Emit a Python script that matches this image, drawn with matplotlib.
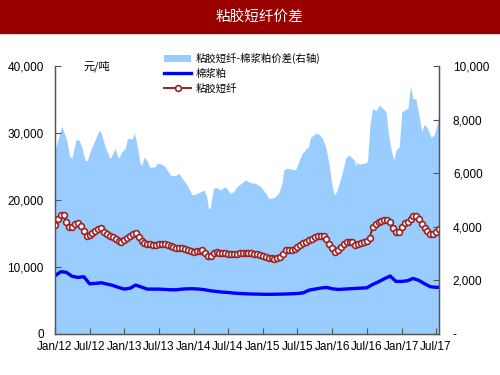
import numpy as np
import pandas as pd
import matplotlib
matplotlib.use('Agg')
import matplotlib.pyplot as plt
import matplotlib.dates as mdates
from matplotlib.ticker import FuncFormatter

plt.rcParams['font.family'] = ['Liberation Sans', 'Noto Sans CJK SC', 'DejaVu Sans']
CJK = ['Noto Sans CJK SC', 'DejaVu Sans']

# ---- data ----
# 粘胶短纤 (semi-monthly, left axis)
viscose_start = '2012-01-01'
viscose_values = [
    16300, 17100, 17700, 17700, 16700, 15900, 16000, 16400, 16500, 16100,
    15400, 14700, 14800, 15100, 15400, 15700, 15800, 15200, 14900, 14650,
    14450, 14250, 13950, 13800, 14000, 14400, 14700, 14950, 15100, 14450,
    13900, 13650, 13500, 13400, 13300, 13350, 13450, 13500, 13450, 13250,
    13100, 12950, 12900, 12850, 12800, 12650, 12500, 12400, 12300, 12350,
    12450, 12500, 12150, 11700, 11700, 12150, 12200, 12150, 12100, 12050,
    12000, 11950, 11950, 12000, 12050, 12100, 12100, 12050, 12050, 11950,
    11900, 11800, 11650, 11500, 11400, 11300, 11250, 11300, 11550, 12000,
    12550, 12600, 12600, 12700, 12950, 13250, 13550, 13800, 14050, 14250,
    14450, 14650, 14700, 14650, 14250, 13400, 12800, 12300, 12550, 13050,
    13400, 13700, 13800, 13750, 13350, 13400, 13550, 13700, 13900, 14400,
    16000, 16350, 16700, 16900, 17050, 17050, 16700, 15800, 15250, 15250,
    16000, 16600, 16750, 17200, 17600, 17600, 17100, 16400, 15750, 15300,
    14950, 14950, 15150, 15600,
]

# 棉浆粕 (monthly, left axis)
pulp_values = [
    8700, 9300, 9200, 8600, 8450, 8550, 7500, 7550, 7650, 7450,
    7250, 6950, 6700, 6850, 7300, 7000, 6700, 6700, 6700, 6650,
    6600, 6600, 6700, 6750, 6750, 6700, 6600, 6450, 6350, 6250,
    6200, 6100, 6050, 6000, 5970, 5950, 5930, 5920, 5930, 5950,
    5970, 6000, 6050, 6150, 6550, 6700, 6850, 6950, 6750, 6650,
    6700, 6750, 6800, 6850, 6900, 7400, 7800, 8250, 8650, 7850,
    7850, 7950, 8300, 8000, 7500, 7050, 6970, 6970,
]

# 粘胶短纤-棉浆粕价差 (right axis)
spread_dates = [
    '2012-01-01', '2012-02-06', '2012-03-02', '2012-03-19', '2012-03-30', '2012-04-20',
    '2012-05-07', '2012-05-20', '2012-06-07', '2012-06-19', '2012-07-07', '2012-07-30',
    '2012-08-20', '2012-08-31', '2012-09-21', '2012-10-17', '2012-10-29', '2012-11-13',
    '2012-11-22', '2012-12-01', '2012-12-18', '2013-01-05', '2013-01-17', '2013-02-10',
    '2013-02-22', '2013-03-06', '2013-03-24', '2013-04-02', '2013-04-14', '2013-04-28',
    '2013-05-15', '2013-06-11', '2013-06-23', '2013-07-16', '2013-08-03', '2013-08-30',
    '2013-09-26', '2013-10-13', '2013-11-01', '2013-11-27', '2013-12-23', '2014-01-10',
    '2014-02-06', '2014-02-23', '2014-03-11', '2014-03-19', '2014-03-28', '2014-04-15',
    '2014-05-03', '2014-05-20', '2014-06-16', '2014-07-12', '2014-07-30', '2014-08-17',
    '2014-09-13', '2014-09-30', '2014-10-27', '2014-11-23', '2014-12-19', '2015-01-15',
    '2015-02-01', '2015-02-28', '2015-03-24', '2015-04-11', '2015-04-20', '2015-05-08',
    '2015-06-21', '2015-07-08', '2015-07-26', '2015-08-13', '2015-08-22', '2015-08-25',
    '2015-09-09', '2015-10-05', '2015-10-22', '2015-11-10', '2015-11-27', '2015-12-14',
    '2015-12-29', '2016-01-10', '2016-01-24', '2016-02-06', '2016-02-24', '2016-03-11',
    '2016-03-29', '2016-04-16', '2016-04-28', '2016-05-03', '2016-05-08', '2016-05-21',
    '2016-06-17', '2016-07-04', '2016-07-18', '2016-07-31', '2016-08-18', '2016-09-05',
    '2016-09-23', '2016-10-10', '2016-10-22', '2016-11-06', '2016-11-20', '2016-12-02',
    '2016-12-19', '2017-01-01', '2017-01-15', '2017-02-02', '2017-02-16', '2017-02-28',
    '2017-03-16', '2017-04-03', '2017-04-16', '2017-04-30', '2017-05-17', '2017-06-04',
    '2017-06-21', '2017-07-09', '2017-07-16',
]
spread_values = [
    6870, 7760, 7240, 6620, 6560, 7240,
    7240, 6990, 6490, 6460, 6870, 7240,
    7610, 7500, 6990, 6550, 6700, 6930,
    6720, 6550, 6800, 6930, 7300, 7280,
    7490, 7150, 6370, 6300, 6590, 6490,
    6220, 6240, 6370, 6340, 6240, 5930,
    5900, 6000, 5810, 5560, 5190, 5220,
    5310, 5370, 5120, 4690, 4690, 5440,
    5460, 5370, 5500, 5250, 5310, 5500,
    5650, 5750, 5650, 5620, 5500, 5250,
    5060, 5080, 5250, 5620, 6120, 6190,
    6120, 6430, 6740, 6870, 7010, 6900,
    7340, 7490, 7460, 7300, 6990, 6370,
    5620, 5190, 5320, 5620, 6060, 6550,
    6680, 6550, 6450, 6250, 6400, 6340,
    6370, 6430, 7860, 8420, 8330, 8540,
    8420, 8290, 7490, 6870, 6490, 6870,
    6990, 8290, 8360, 8420, 9250, 8790,
    8760, 8110, 7550, 7830, 7670, 7340,
    7430, 7920, 8360,
]

legend_labels = ['粘胶短纤-棉浆粕价差(右轴)', '棉浆粕', '粘胶短纤']

# semi-monthly dates for viscose: 1st and 16th of each month
months = pd.date_range(viscose_start, periods=len(viscose_values) // 2, freq='MS')
viscose_dates = []
for mo in months:
    viscose_dates += [mo, mo + pd.Timedelta(days=15)]
pulp_dates = list(pd.date_range('2012-01-01', periods=len(pulp_values) - 1, freq='MS')) + [pd.Timestamp('2017-07-16')]
spread_dt = pd.to_datetime(spread_dates)

# ---- figure ----
fig = plt.figure(figsize=(5, 3.75), dpi=100)
fig.patches.append(plt.Rectangle((0, 1 - 33 / 375), 1, 33 / 375, transform=fig.transFigure,
                                 color='#990000', zorder=0))
fig.text(0.52, 1 - 17 / 375, '粘胶短纤价差', color='white', fontsize=10.5,
         ha='center', va='center', family=CJK)

ax = fig.add_axes([55 / 500, 41 / 375, 384 / 500, 268 / 375])
ax2 = ax.twinx()
ax.set_zorder(ax2.get_zorder() + 1)
ax.patch.set_visible(False)

area = ax2.fill_between(spread_dt, 0, spread_values, color='#99CCFF', lw=0)
line_pulp, = ax.plot(pulp_dates, pulp_values, color='#0000FF', lw=2.4)
line_vis, = ax.plot(viscose_dates, viscose_values, color='#9B2222', lw=1.4,
                    marker='o', ms=4.2, mfc='white', mec='#9B2222', mew=1.2)

xmin, xmax = pd.Timestamp('2012-01-01'), pd.Timestamp('2017-07-16')
ax.set_xlim(xmin, xmax)
ax.set_ylim(0, 40000)
ax2.set_ylim(0, 10000)
ax.set_yticks(np.arange(0, 40001, 10000))
ax2.set_yticks(np.arange(0, 10001, 2000))
ax.yaxis.set_major_formatter(FuncFormatter(lambda v, p: f'{v:,.0f}'))
ax2.yaxis.set_major_formatter(FuncFormatter(lambda v, p: '-' if v == 0 else f'{v:,.0f}'))

ax.xaxis.set_major_locator(mdates.MonthLocator(bymonth=[1, 7]))
ax.xaxis.set_major_formatter(mdates.DateFormatter('%b/%y'))

for a in (ax, ax2):
    a.spines['top'].set_visible(False)
    for s in ('left', 'right', 'bottom'):
        a.spines[s].set_color('#555555')
        a.spines[s].set_linewidth(0.9)
    a.tick_params(direction='in', length=4, width=0.8, color='#555555', labelsize=8.5)
ax.tick_params(axis='x', pad=5)
ax.tick_params(axis='y', pad=8)
ax2.tick_params(axis='y', pad=10)

fig.text(83 / 500, 1 - 66 / 375, '元/吨', fontsize=8, va='center', family=CJK)

fig.legend([area, line_pulp, line_vis], legend_labels, loc='upper left',
           bbox_to_anchor=(160 / 500, 1 - 49 / 375), frameon=False,
           prop={'family': CJK, 'size': 7.5}, handlelength=2.6,
           labelspacing=0.45, handletextpad=0.4, borderaxespad=0)

fig.savefig('out.png', dpi=100)
